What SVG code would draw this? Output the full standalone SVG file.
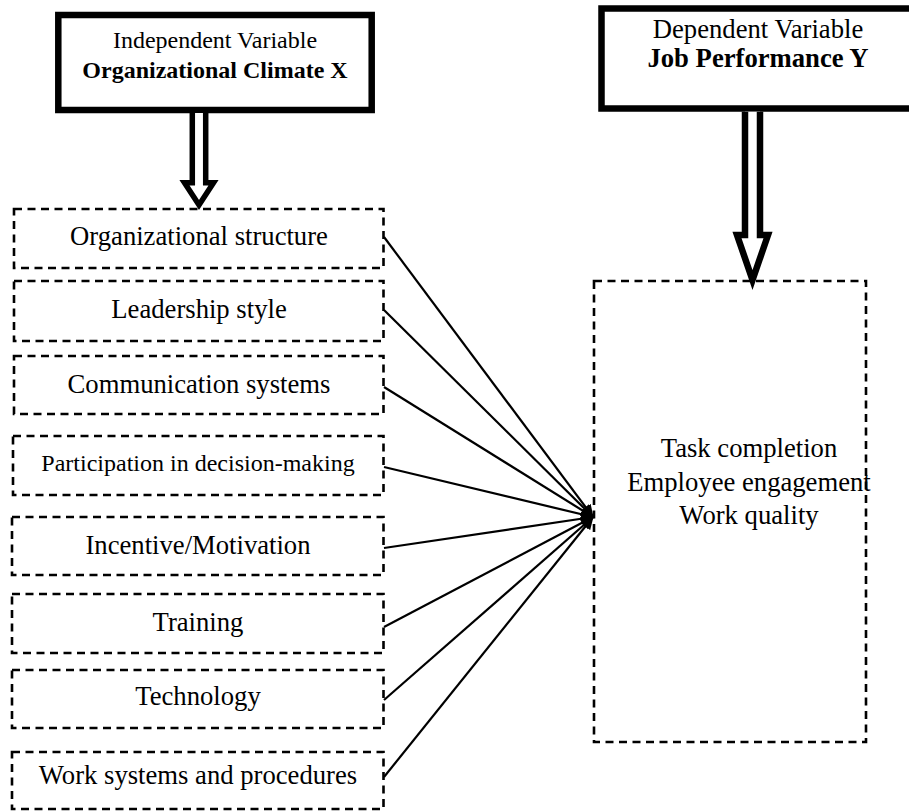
<svg xmlns="http://www.w3.org/2000/svg" width="909" height="812" viewBox="0 0 909 812">
<style>
text{font-family:"Liberation Serif","Times New Roman",serif;fill:#000;text-anchor:middle}
.t24{font-size:24px}
.t26{font-size:26.67px}
.b{font-weight:bold}
.head{fill:#fff;stroke:#000;stroke-width:6.5}
.dash{fill:none;stroke:#000;stroke-width:2.6;stroke-dasharray:8 5.5}
.block{fill:#fff;stroke:#000;stroke-linejoin:miter;stroke-miterlimit:10}
.conn{stroke:#000;stroke-width:2.2;fill:none}
</style>
<defs>
<marker id="ah" markerUnits="userSpaceOnUse" markerWidth="14" markerHeight="12" refX="12" refY="6" orient="auto">
<path d="M0,0 L13,6 L0,12 Z" fill="#000"/>
</marker>
</defs>
<rect width="909" height="812" fill="#fff"/>

<g id="independent-variable">
<rect class="head" x="58.3" y="15" width="313.4" height="95"/>
<text class="t24" x="215" y="48">Independent Variable</text>
<text class="t24 b" x="215" y="78">Organizational Climate X</text>
</g>

<g id="dependent-variable">
<rect class="head" x="601.5" y="8.5" width="313" height="100"/>
<text class="t26" x="758" y="38">Dependent Variable</text>
<text class="t26 b" x="758" y="67">Job Performance Y</text>
</g>

<g id="block-arrows">
<polyline class="block" stroke-width="5.5" points="192.3,113 192.3,182.8 184.5,182.8 199,205 213.5,182.8 205.7,182.8 205.7,113"/>
<polyline class="block" stroke-width="6.5" points="745,111.8 745,235 737,235 752.5,280 768,235 760,235 760,111.8"/>
</g>

<g id="item-1"><rect class="dash" x="14" y="209" width="369.5" height="59"/><text class="t26" x="199" y="245">Organizational structure</text></g>
<g id="item-2"><rect class="dash" x="14" y="281" width="369.5" height="60"/><text class="t26" x="199" y="318">Leadership style</text></g>
<g id="item-3"><rect class="dash" x="14" y="356" width="369.5" height="58"/><text class="t26" x="199" y="393">Communication systems</text></g>
<g id="item-4"><rect class="dash" x="13" y="436" width="370.5" height="59"/><text class="t24" x="198" y="471">Participation in decision-making</text></g>
<g id="item-5"><rect class="dash" x="12" y="517" width="371.5" height="58"/><text class="t26" x="198" y="554">Incentive/Motivation</text></g>
<g id="item-6"><rect class="dash" x="12" y="594" width="371.5" height="59"/><text class="t26" x="198" y="631">Training</text></g>
<g id="item-7"><rect class="dash" x="12" y="670" width="371.5" height="58"/><text class="t26" x="198" y="705">Technology</text></g>
<g id="item-8"><rect class="dash" x="12" y="752" width="371.5" height="57"/><text class="t26" x="198" y="784">Work systems and procedures</text></g>

<g id="job-performance-dimensions">
<rect class="dash" x="594" y="281" width="272" height="461"/>
<text class="t26" x="749" y="457">Task completion</text>
<text class="t26" x="749" y="491">Employee engagement</text>
<text class="t26" x="749" y="524">Work quality</text>
</g>

<g id="connectors">
<line class="conn" x1="384" y1="237" x2="593" y2="517" marker-end="url(#ah)"/>
<line class="conn" x1="384" y1="310" x2="593" y2="517" marker-end="url(#ah)"/>
<line class="conn" x1="384" y1="387" x2="593" y2="517" marker-end="url(#ah)"/>
<line class="conn" x1="384" y1="467" x2="593" y2="517" marker-end="url(#ah)"/>
<line class="conn" x1="384" y1="548" x2="593" y2="517" marker-end="url(#ah)"/>
<line class="conn" x1="384" y1="627" x2="593" y2="517" marker-end="url(#ah)"/>
<line class="conn" x1="384" y1="700" x2="593" y2="517" marker-end="url(#ah)"/>
<line class="conn" x1="384" y1="777" x2="593" y2="517" marker-end="url(#ah)"/>
</g>
</svg>
